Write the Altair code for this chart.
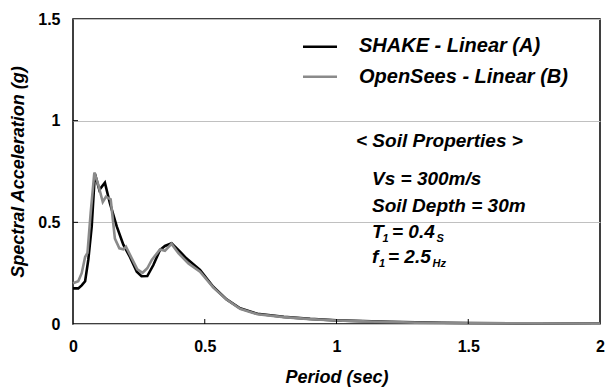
import altair as alt
import pandas as pd

# ---------------- data ----------------
series_names = ["SHAKE - Linear (A)", "OpenSees - Linear (B)"]

shake_period = [0, 0.02, 0.033, 0.046, 0.058, 0.071, 0.083, 0.1, 0.121, 0.14,
                0.166, 0.191, 0.216, 0.242, 0.26, 0.282, 0.305, 0.33, 0.349,
                0.374, 0.406, 0.43, 0.482, 0.532, 0.583, 0.634, 0.7, 0.8, 0.9,
                1.0, 1.1, 1.2, 1.3, 1.4, 1.5, 1.75, 2.0]
shake_sa = [0.175, 0.175, 0.19, 0.21, 0.315, 0.48, 0.74, 0.66, 0.695, 0.594,
            0.48, 0.39, 0.33, 0.257, 0.235, 0.236, 0.29, 0.364, 0.384,
            0.397, 0.356, 0.323, 0.266, 0.183, 0.121, 0.077, 0.05, 0.035, 0.025,
            0.018, 0.014, 0.011, 0.008, 0.006, 0.005, 0.003, 0.002]

opensees_period = [0, 0.02, 0.033, 0.046, 0.055, 0.067, 0.081, 0.096, 0.113, 0.125,
                   0.143, 0.159, 0.176, 0.191, 0.201, 0.223, 0.244, 0.264, 0.282,
                   0.299, 0.33, 0.349, 0.374, 0.4, 0.438, 0.482, 0.532, 0.583,
                   0.634, 0.7, 0.8, 0.9, 1.0, 1.1, 1.2, 1.3, 1.4, 1.5, 1.75, 2.0]
opensees_sa = [0.2, 0.21, 0.25, 0.33, 0.35, 0.545, 0.745, 0.684, 0.6, 0.626,
               0.613, 0.42, 0.372, 0.367, 0.38, 0.323, 0.269, 0.252, 0.274,
               0.315, 0.367, 0.36, 0.394, 0.348, 0.298, 0.257, 0.18, 0.12,
               0.075, 0.048, 0.034, 0.024, 0.017, 0.013, 0.01, 0.007, 0.005,
               0.004, 0.003, 0.002]

x_ticks = [0, 0.5, 1, 1.5, 2]
y_ticks = [0, 0.5, 1, 1.5]
x_inner_ticks = [0.5, 1, 1.5]
y_inner_ticks = [0.5, 1]

# ---------------- layout ----------------
W, H = 527, 305
FONT = "Liberation Sans"

shake_df = pd.DataFrame({"period": shake_period, "sa": shake_sa})
opensees_df = pd.DataFrame({"period": opensees_period, "sa": opensees_sa})

x_axis = alt.Axis(values=x_ticks, format="~g", title="Period (sec)", grid=False,
                  ticks=False, domain=False, labelPadding=14,
                  labelFont=FONT, labelFontSize=16, labelFontWeight="bold",
                  labelColor="black", labelFlush=False,
                  titleFont=FONT, titleFontSize=18, titleFontWeight="bold",
                  titleFontStyle="italic", titleColor="black",
                  titleY=58, titleBaseline="alphabetic")
y_axis = alt.Axis(values=y_ticks, format="~g", title="Spectral Acceleration (g)",
                  grid=True, gridColor="#c0c0c0", gridWidth=1,
                  ticks=False, domain=False, labelPadding=13,
                  labelFont=FONT, labelFontSize=16, labelFontWeight="bold",
                  labelColor="black", labelFlush=False,
                  titleFont=FONT, titleFontSize=18, titleFontWeight="bold",
                  titleFontStyle="italic", titleColor="black",
                  titleX=-55, titleY=H / 2, titleAngle=270,
                  titleAlign="center", titleBaseline="middle")

xs = alt.Scale(domain=[0, 2], nice=False, zero=False)
ys = alt.Scale(domain=[0, 1.5], nice=False)

X = alt.X("period:Q", scale=xs, axis=x_axis)
Y = alt.Y("sa:Q", scale=ys, axis=y_axis)

shake_line = alt.Chart(shake_df).mark_line(color="#000000", strokeWidth=2.6).encode(
    x=X, y=Y, order="period:Q")
opensees_line = alt.Chart(opensees_df).mark_line(color="#8a8a8a", strokeWidth=2.6).encode(
    x=X, y=Y, order="period:Q")

xt = alt.Chart(pd.DataFrame({"period": x_inner_ticks})).mark_rule(
    color="black", strokeWidth=1).encode(x=X, y=alt.value(H), y2=alt.value(H - 5))
yt = alt.Chart(pd.DataFrame({"sa": y_inner_ticks})).mark_rule(
    color="black", strokeWidth=1).encode(y=Y, x=alt.value(0), x2=alt.value(5))


def text(label, px, py, size, color="black"):
    return alt.Chart(pd.DataFrame({"t": [label]})).mark_text(
        align="left", baseline="alphabetic", font=FONT, fontSize=size,
        fontWeight="bold", fontStyle="italic", color=color
    ).encode(x=alt.value(px), y=alt.value(py), text="t:N")


def seg(color, py):
    return alt.Chart(pd.DataFrame({"a": [0]})).mark_rule(
        color=color, strokeWidth=2.5).encode(
        x=alt.value(230), x2=alt.value(264), y=alt.value(py))


layers = [
    shake_line, opensees_line, xt, yt,
    seg("#000000", 27.7), seg("#8a8a8a", 57.7),
    text(series_names[0], 286, 33.3, 20),
    text(series_names[1], 286, 64.3, 20),
    text("< Soil Properties >", 283, 128, 19),
    text("Vs = 300m/s", 299, 166, 19),
    text("Soil Depth = 30m", 299, 193, 19),
    text("T", 299, 219, 19),
    text("1", 309.5, 223, 11),
    text("= 0.4", 319, 219, 19),
    text("S", 363.5, 223, 11),
    text("f", 299, 244, 19),
    text("1", 306, 248, 11),
    text("= 2.5", 315, 244, 19),
    text("Hz", 359.5, 248, 11),
]

chart = alt.layer(*layers).properties(
    width=W, height=H,
    autosize=alt.AutoSizeParams(type="none"),
    padding={"left": 73, "top": 19, "right": 8, "bottom": 66},
    background="white",
).configure_view(stroke="black", strokeWidth=1.5)

chart.save("out.html", embed_options={"renderer": "svg", "actions": False})
